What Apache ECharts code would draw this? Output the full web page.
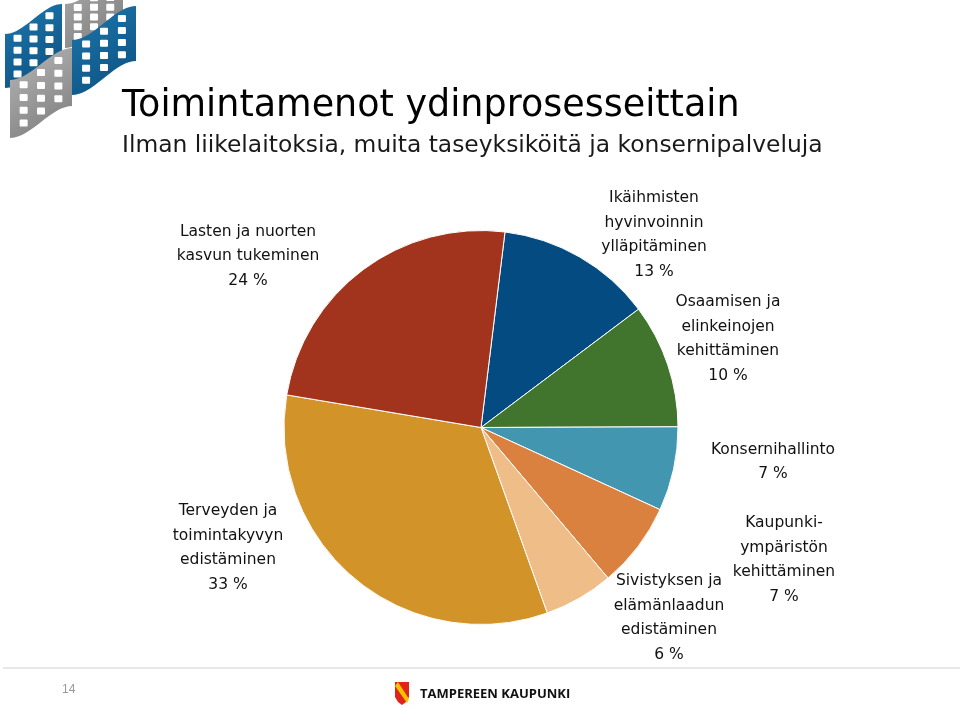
<!DOCTYPE html>
<html><head><meta charset="utf-8">
<script src="https://cdn.jsdelivr.net/npm/echarts@6/dist/echarts.min.js"></script>
<style>html,body{margin:0;padding:0;background:#fff}#c{width:960px;height:708px}</style>
</head><body><div id="c"></div>
<script>
// ---- data ----
var categories = [
  'Ikäihmisten\nhyvinvoinnin\nylläpitäminen',
  'Osaamisen ja\nelinkeinojen\nkehittäminen',
  'Konsernihallinto',
  'Kaupunki-\nympäristön\nkehittäminen',
  'Sivistyksen ja\nelämänlaadun\nedistäminen',
  'Terveyden ja\ntoimintakyvyn\nedistäminen',
  'Lasten ja nuorten\nkasvun tukeminen'
];
var shares = [12.8, 10.2, 6.9, 7.0, 5.7, 33.1, 24.3];
var colors = ['#044B82', '#41742D', '#4396AF', '#DB813F', '#EFBE88', '#D29328', '#A2341E'];
var labelCenters = [[654, 235], [728, 339], [773, 462], [784, 560], [669, 618], [228, 548], [248, 256]];

var titleText = 'Toimintamenot ydinprosesseittain';
var subtitleText = 'Ilman liikelaitoksia, muita taseyksiköitä ja konsernipalveluja';

// ---- logo helpers ----
function smooth(t){ return t*t*(3-2*t); }
function flag(L, W, yL, yR, H, c1, c2){
  var pts = [], i, n = 20;
  for (i = 0; i <= n; i++) { var t = i/n; pts.push([L + W*t, yL + (yR-yL)*smooth(t)]); }
  for (i = n; i >= 0; i--) { var t2 = i/n; pts.push([L + W*t2, yL + (yR-yL)*smooth(t2) + H]); }
  var els = [{
    type: 'polygon', shape: {points: pts},
    style: {fill: {type: 'linear', x: 0, y: 0, x2: 1, y2: 1, colorStops: [{offset: 0, color: c1}, {offset: 1, color: c2}]}}
  }];
  var cols = [0.22, 0.5, 0.78], rows = [0.14, 0.36, 0.58, 0.8];
  cols.forEach(function(cf){
    var cx = L + W*cf, yc = yL + (yR-yL)*smooth(cf);
    rows.forEach(function(rf){
      els.push({type: 'rect', shape: {x: cx - 4, y: yc + rf*H - 3, width: 8, height: 7, r: 1}, style: {fill: '#ffffff'}});
    });
  });
  return els;
}
var logo = [].concat(
  flag(5, 57, 34, 4, 54, '#1E78AE', '#0B4E7E'),
  flag(65, 58, 4, -22, 44, '#A9A9A9', '#7C7C7C'),
  flag(72, 64, 40, 6, 55, '#1E78AE', '#0B4E7E'),
  flag(10, 62, 80, 48, 58, '#B8B8B8', '#7A7A7A')
);

var chart = echarts.init(document.getElementById('c'));
chart.setOption({
  backgroundColor: '#ffffff',
  animation: false,
  graphic: logo.concat([
    {type: 'text', style: {text: titleText, x: 122, y: 107, fontFamily: 'DejaVu Sans', fontSize: 36.5, fill: '#000', verticalAlign: 'middle'}},
    {type: 'text', style: {text: subtitleText, x: 122, y: 146, fontFamily: 'DejaVu Sans', fontSize: 23.4, fill: '#1a1a1a', verticalAlign: 'middle'}},
    {type: 'rect', shape: {x: 3, y: 667, width: 957, height: 2}, style: {fill: '#E8E8E8'}},
    {type: 'text', style: {text: '14', x: 62, y: 690, fontFamily: 'Liberation Sans', fontSize: 12, fill: '#999', verticalAlign: 'middle'}},
    {type: 'polygon', shape: {points: [[395, 682], [409, 682], [409, 697], [406, 702], [402, 705], [398, 702], [395, 697]]}, style: {fill: '#E2231A'}},
    {type: 'polygon', shape: {points: [[395, 686], [398, 682], [409, 699], [407, 703]]}, style: {fill: '#F7C300'}},
    {type: 'text', style: {text: 'TAMPEREEN KAUPUNKI', x: 420, y: 694, fontFamily: 'Open Sans', fontWeight: 'bold', fontSize: 13, fill: '#111', verticalAlign: 'middle'}}
  ]),
  series: [{
    type: 'pie',
    center: [481, 427.5],
    radius: 197,
    startAngle: 83,
    clockwise: true,
    avoidLabelOverlap: false,
    itemStyle: {borderColor: '#ffffff', borderWidth: 1},
    emphasis: {disabled: true},
    label: {
      show: true, position: 'outside', color: '#111',
      fontFamily: 'DejaVu Sans', fontSize: 15.5, lineHeight: 24.5, align: 'center',
      formatter: function(p){ return p.name + '\n' + Math.round(p.value) + ' %'; }
    },
    labelLine: {show: false},
    labelLayout: function(p){
      var c = labelCenters[p.dataIndex];
      return {x: c[0], y: c[1], align: 'center', verticalAlign: 'middle', moveOverlap: false};
    },
    data: categories.map(function(n, i){ return {name: n, value: shares[i], itemStyle: {color: colors[i]}}; })
  }]
});
</script></body></html>
